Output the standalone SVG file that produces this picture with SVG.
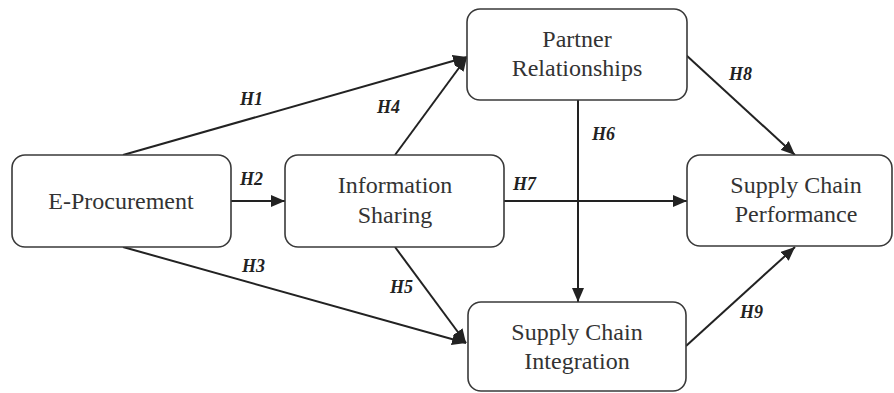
<svg xmlns="http://www.w3.org/2000/svg" width="894" height="393" viewBox="0 0 894 393">
  <style>
    .box { fill: #ffffff; stroke: #3a3a3a; stroke-width: 1.6; }
    .lbl { font-family: "Liberation Serif", "Times New Roman", serif; font-size: 24px; fill: #333333; text-anchor: middle; }
    .hyp { font-family: "Liberation Serif", "Times New Roman", serif; font-size: 18px; font-weight: bold; font-style: italic; fill: #222222; }
    .edge { stroke: #222222; stroke-width: 2; fill: none; marker-end: url(#arrow); }
  </style>
  <defs>
    <marker id="arrow" markerUnits="userSpaceOnUse" markerWidth="14" markerHeight="12" viewBox="0 0 14 12" refX="14" refY="6" orient="auto">
      <path d="M0,0 L14,6 L0,12 Z" fill="#222222"/>
    </marker>
  </defs>

  <rect width="894" height="393" fill="#ffffff"/>

  <!-- connectors -->
  <g id="connectors">
    <line class="edge" x1="123" y1="155" x2="467" y2="57"/>
    <line class="edge" x1="231" y1="201" x2="285" y2="201"/>
    <line class="edge" x1="123" y1="247" x2="466" y2="343"/>
    <line class="edge" x1="395" y1="155" x2="467" y2="57"/>
    <line class="edge" x1="395" y1="247" x2="466" y2="343"/>
    <line class="edge" x1="578" y1="100" x2="578" y2="302"/>
    <line class="edge" x1="504" y1="201" x2="687" y2="201"/>
    <line class="edge" x1="686" y1="55" x2="795" y2="155"/>
    <line class="edge" x1="686" y1="346" x2="795" y2="247"/>

    <text class="hyp" x="240" y="105">H1</text>
    <text class="hyp" x="240" y="185">H2</text>
    <text class="hyp" x="242" y="272">H3</text>
    <text class="hyp" x="377" y="113">H4</text>
    <text class="hyp" x="390" y="293">H5</text>
    <text class="hyp" x="592" y="140">H6</text>
    <text class="hyp" x="513" y="190">H7</text>
    <text class="hyp" x="729" y="80">H8</text>
    <text class="hyp" x="740" y="318">H9</text>
  </g>

  <g id="e-procurement">
    <rect class="box" x="12" y="155" width="219" height="92" rx="13"/>
    <text class="lbl" x="121" y="209">E-Procurement</text>
  </g>

  <g id="information-sharing">
    <rect class="box" x="285" y="155" width="219" height="92" rx="13"/>
    <text class="lbl" x="395" y="193">Information</text>
    <text class="lbl" x="395" y="223">Sharing</text>
  </g>

  <g id="partner-relationships">
    <rect class="box" x="467" y="9" width="220" height="91" rx="13"/>
    <text class="lbl" x="577" y="47">Partner</text>
    <text class="lbl" x="577" y="76">Relationships</text>
  </g>

  <g id="supply-chain-integration">
    <rect class="box" x="468" y="302" width="218" height="89" rx="13"/>
    <text class="lbl" x="577" y="340">Supply Chain</text>
    <text class="lbl" x="577" y="369">Integration</text>
  </g>

  <g id="supply-chain-performance">
    <rect class="box" x="687" y="155" width="205" height="91" rx="13"/>
    <text class="lbl" x="796" y="193">Supply Chain</text>
    <text class="lbl" x="796" y="222">Performance</text>
  </g>
</svg>
